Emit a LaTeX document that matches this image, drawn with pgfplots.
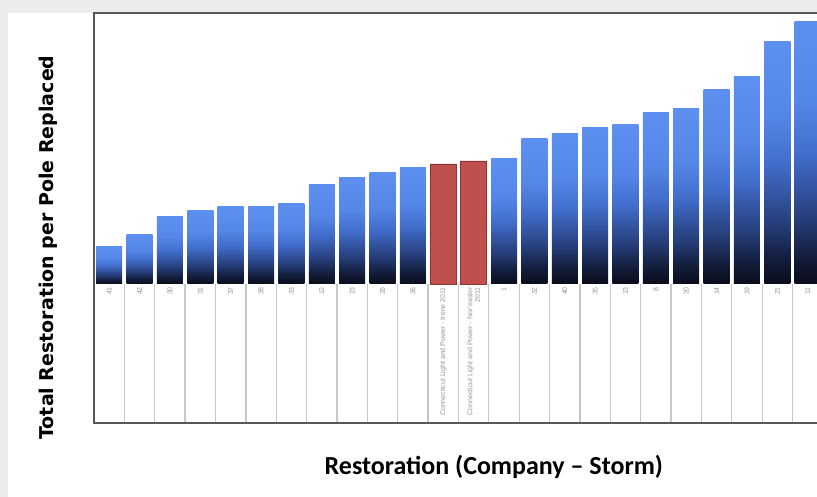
\documentclass[border=0pt]{standalone}
\usepackage{pgfplots}
\pgfplotsset{compat=1.18}
\usepackage{fontspec}
\setmainfont{Liberation Sans}
\newfontfamily\verdanalike{DejaVu Sans}
\newfontfamily\calibrilike{Carlito}

\definecolor{pagegray}{RGB}{236,236,236}
\definecolor{framegray}{RGB}{88,88,88}
\definecolor{cellgray}{RGB}{200,200,200}
\definecolor{barred}{RGB}{192,80,77}
\definecolor{barrededge}{RGB}{140,52,50}
\definecolor{labgray}{RGB}{150,150,150}
% stops of the blue-to-black bar fill, bottom to top
\definecolor{bb0}{RGB}{10,12,26}
\definecolor{bb1}{RGB}{18,28,58}
\definecolor{bb2}{RGB}{38,62,122}
\definecolor{bb3}{RGB}{66,110,205}
\definecolor{bb4}{RGB}{85,135,232}
\definecolor{bb5}{RGB}{92,143,240}
% the path's box maps onto 25bp..75bp of the shading
\pgfdeclareverticalshading{bluebar}{100bp}{%
  color(0bp)=(bb0); color(25bp)=(bb0); color(30bp)=(bb1);
  color(37.5bp)=(bb2); color(50bp)=(bb3); color(60bp)=(bb4);
  color(75bp)=(bb5); color(100bp)=(bb5)}

% each bar is its own plot so that every bar carries the full gradient
\pgfplotsset{
  gradbar/.style={ybar, bar width=26pt, bar shift=0pt, draw=none,
    shade, shading=bluebar},
  redbar/.style={ybar, bar width=26pt, bar shift=0pt, fill=barred,
    draw=barrededge, line width=0.8pt},
}

\begin{document}
\begin{tikzpicture}
\useasboundingbox (0,0) rectangle (817pt,497pt);
\clip (0,0) rectangle (817pt,497pt);
\fill[pagegray] (0,0) rectangle (817pt,497pt);
\fill[white] (8pt,0) rectangle (817pt,484pt);
\begin{axis}[
  scale only axis,
  anchor=south west, at={(94pt,74pt)},
  width=728.9pt, height=410pt,
  xmin=0.5, xmax=24.5, ymin=-139, ymax=271,
  axis line style={framegray, line width=2pt},
  ytick=\empty,
  xtick={1,...,24},
  xticklabels={41,42,30,31,37,38,33,12,23,26,36,
    Connecticut Light and Power - Irene 2011,
    Connecticut Light and Power - Nor'easter\\2011,
    1,32,40,35,13,8,20,14,19,21,11},
  major tick length=0pt,
  minor xtick={1.5,2.5,...,23.5},
  minor tick length=139pt,
  tick align=inside,
  xtick pos=lower,
  minor tick style={cellgray, line width=1.3pt},
  xticklabel shift=-137pt,
  xticklabel style={rotate=90, anchor=east, align=right, inner sep=1pt,
    font=\fontsize{7}{7.6}\selectfont, text=labgray},
  xlabel={Restoration (Company – Storm)},
  xlabel style={font=\calibrilike\bfseries\fontsize{26}{30}\selectfont,
    at={(axis description cs:0.5485,-0.107)}, anchor=center},
  ylabel={Total Restoration per Pole Replaced},
  ylabel style={font=\verdanalike\bfseries\fontsize{19}{22}\selectfont,
    at={(axis description cs:-0.0632,0.428)}, anchor=center},
]
% other company-storm restorations
\addplot[gradbar] coordinates {(1,37)};
\addplot[gradbar] coordinates {(2,49)};
\addplot[gradbar] coordinates {(3,67)};
\addplot[gradbar] coordinates {(4,73)};
\addplot[gradbar] coordinates {(5,77)};
\addplot[gradbar] coordinates {(6,77)};
\addplot[gradbar] coordinates {(7,80)};
\addplot[gradbar] coordinates {(8,99)};
\addplot[gradbar] coordinates {(9,106)};
\addplot[gradbar] coordinates {(10,111)};
\addplot[gradbar] coordinates {(11,116)};
\addplot[gradbar] coordinates {(14,125)};
\addplot[gradbar] coordinates {(15,145)};
\addplot[gradbar] coordinates {(16,150)};
\addplot[gradbar] coordinates {(17,156)};
\addplot[gradbar] coordinates {(18,159)};
\addplot[gradbar] coordinates {(19,171)};
\addplot[gradbar] coordinates {(20,175)};
\addplot[gradbar] coordinates {(21,194)};
\addplot[gradbar] coordinates {(22,207)};
\addplot[gradbar] coordinates {(23,242)};
\addplot[gradbar] coordinates {(24,262)};
% Connecticut Light and Power storms
\addplot[redbar] coordinates {(12,120) (13,123)};
\end{axis}
\end{tikzpicture}
\end{document}
